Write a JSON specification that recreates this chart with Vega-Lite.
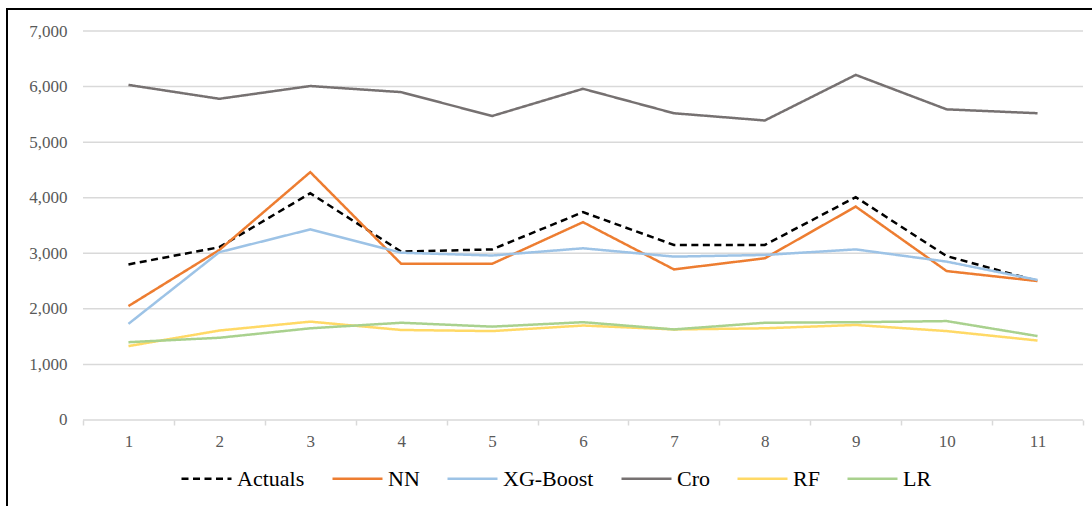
{
  "$schema": "https://vega.github.io/schema/vega-lite/v6.json",
  "width": 1095,
  "height": 507,
  "autosize": {"type": "none"},
  "padding": {"left": 7, "top": 9, "right": -10, "bottom": -10},
  "background": "white",
  "config": {
    "view": {"stroke": "#000000", "strokeWidth": 2},
    "font": "'Liberation Serif', 'Times New Roman', 'DejaVu Serif', serif",
    "axis": {"labelFont": "'Liberation Serif', 'Times New Roman', 'DejaVu Serif', serif", "labelFontSize": 17, "labelColor": "#595959", "title": null, "grid": false},
    "legend": {"labelFont": "'Liberation Serif', 'Times New Roman', 'DejaVu Serif', serif"}
  },
  "datasets": {
    "forecasts": [
      {"t": 1, "Actuals": 2800, "NN": 2050, "XG-Boost": 1730, "Cro": 6030, "RF": 1330, "LR": 1400},
      {"t": 2, "Actuals": 3110, "NN": 3060, "XG-Boost": 3020, "Cro": 5780, "RF": 1610, "LR": 1480},
      {"t": 3, "Actuals": 4080, "NN": 4460, "XG-Boost": 3430, "Cro": 6010, "RF": 1770, "LR": 1650},
      {"t": 4, "Actuals": 3030, "NN": 2810, "XG-Boost": 3010, "Cro": 5900, "RF": 1620, "LR": 1750},
      {"t": 5, "Actuals": 3070, "NN": 2810, "XG-Boost": 2960, "Cro": 5470, "RF": 1600, "LR": 1680},
      {"t": 6, "Actuals": 3740, "NN": 3560, "XG-Boost": 3090, "Cro": 5960, "RF": 1700, "LR": 1760},
      {"t": 7, "Actuals": 3150, "NN": 2710, "XG-Boost": 2940, "Cro": 5520, "RF": 1630, "LR": 1630},
      {"t": 8, "Actuals": 3150, "NN": 2910, "XG-Boost": 2970, "Cro": 5390, "RF": 1650, "LR": 1750},
      {"t": 9, "Actuals": 4010, "NN": 3840, "XG-Boost": 3070, "Cro": 6210, "RF": 1710, "LR": 1760},
      {"t": 10, "Actuals": 2950, "NN": 2680, "XG-Boost": 2850, "Cro": 5590, "RF": 1600, "LR": 1780},
      {"t": 11, "Actuals": 2500, "NN": 2500, "XG-Boost": 2520, "Cro": 5520, "RF": 1430, "LR": 1510}
    ],
    "gridValues": [
      {"v": 0}, {"v": 1000}, {"v": 2000}, {"v": 3000}, {"v": 4000}, {"v": 5000}, {"v": 6000}, {"v": 7000}
    ]
  },
  "encoding": {
    "y": {
      "field": "v",
      "type": "quantitative",
      "scale": {"domain": [-1727.6, 7395.9], "nice": false, "zero": false},
      "axis": {
        "orient": "left",
        "values": [0, 1000, 2000, 3000, 4000, 5000, 6000, 7000],
        "format": ",.0f",
        "domain": false,
        "ticks": false,
        "tickSize": 0,
        "labelPadding": -60,
        "labelAlign": "right"
      }
    }
  },
  "layer": [
    {
      "data": {"name": "gridValues"},
      "mark": {"type": "rule", "color": "#d9d9d9", "strokeWidth": 1.5},
      "encoding": {
        "x": {
          "datum": 0,
          "type": "quantitative",
          "scale": {"domain": [-0.076, 1.019], "nice": false, "zero": false},
          "axis": null
        },
        "x2": {"datum": 1}
      }
    },
    {
      "data": {"name": "forecasts"},
      "transform": [
        {"fold": ["Actuals", "NN", "XG-Boost", "Cro", "RF", "LR"], "as": ["s", "v"]}
      ],
      "mark": {"type": "line", "strokeWidth": 2.5},
      "encoding": {
        "x": {
          "field": "t",
          "type": "ordinal",
          "scale": {"type": "band", "paddingInner": 0, "paddingOuter": 0.5225, "align": 0.8},
          "axis": {
            "orient": "bottom",
            "offset": -96,
            "tickBand": "extent",
            "domain": false,
            "ticks": true,
            "tickColor": "#d9d9d9",
            "tickWidth": 1.5,
            "tickSize": 5,
            "labelAngle": 0,
            "labelPadding": 8
          }
        },
        "color": {
          "field": "s",
          "type": "nominal",
          "scale": {
            "domain": ["Actuals", "NN", "XG-Boost", "Cro", "RF", "LR"],
            "range": ["#000000", "#ED7D31", "#9DC3E6", "#767171", "#FFD966", "#A9D18E"]
          },
          "legend": {
            "orient": "none",
            "legendX": 173,
            "legendY": 443,
            "direction": "horizontal",
            "title": null,
            "symbolType": "stroke",
            "symbolSize": 2500,
            "symbolStrokeWidth": 2.5,
            "labelFontSize": 22,
            "labelColor": "#000000",
            "labelOffset": 4,
            "columnPadding": 22
          }
        },
        "strokeDash": {
          "field": "s",
          "type": "nominal",
          "scale": {
            "domain": ["Actuals", "NN", "XG-Boost", "Cro", "RF", "LR"],
            "range": [[7, 4.5], [1, 0], [1, 0], [1, 0], [1, 0], [1, 0]]
          },
          "legend": {
            "orient": "none",
            "legendX": 173,
            "legendY": 443,
            "direction": "horizontal",
            "title": null,
            "symbolType": "stroke",
            "symbolSize": 2500,
            "symbolStrokeWidth": 2.5,
            "labelFontSize": 22,
            "labelColor": "#000000",
            "labelOffset": 4,
            "columnPadding": 22
          }
        }
      }
    }
  ],
  "resolve": {"scale": {"x": "independent"}, "axis": {"x": "independent"}}
}
